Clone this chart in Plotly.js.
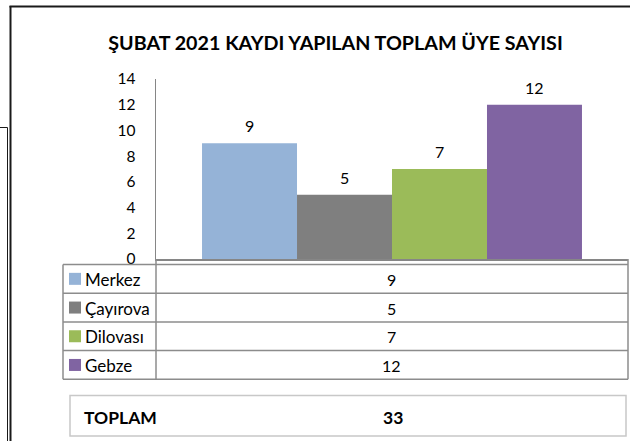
<!DOCTYPE html>
<html>
<head>
<meta charset="utf-8">
<script src="https://cdn.plot.ly/plotly-3.0.1.min.js"></script>
<style>html,body{margin:0;padding:0;background:#fff;}#chart{width:630px;height:441px;}</style>
</head>
<body>
<div id="chart"></div>
<script>
// ---- data ----
const chartTitle = 'ŞUBAT 2021 KAYDI YAPILAN TOPLAM ÜYE SAYISI';
const period = ['Şubat 2021'];
const seriesNames = ['Merkez', 'Çayırova', 'Dilovası', 'Gebze'];
const seriesValues = [9, 5, 7, 12];
const seriesColors = ['#95B3D7', '#7F7F7F', '#9BBB59', '#8064A2'];
const yTickValues = [0, 2, 4, 6, 8, 10, 12, 14];
const totalLabel = 'TOPLAM';
const totalValue = 33;

// ---- layout geometry (pixels) ----
const W = 630, H = 441;
const plotL = 156, plotR = 628, plotT = 79, plotB = 259;
const FONT = 'Lato, Carlito, Calibri, sans-serif';
const px = v => (v - plotL) / (plotR - plotL);
const py = v => (plotB - v) / (plotB - plotT);
const bargap = 0.195;

const traces = seriesNames.map((n, i) => ({
  type: 'bar', name: n, x: period, y: [seriesValues[i]],
  marker: {color: seriesColors[i], line: {width: 0}},
  hoverinfo: 'skip', showlegend: false
}));

const shapes = [];
const annotations = [];
const gridColor = '#8C8C8C';
function hline(x0, x1, y, color, w) {
  shapes.push({type: 'line', xref: 'paper', yref: 'paper', x0: px(x0), x1: px(x1), y0: py(y), y1: py(y), line: {color: color, width: w}});
}
function vline(x, y0, y1, color, w) {
  shapes.push({type: 'line', xref: 'paper', yref: 'paper', x0: px(x), x1: px(x), y0: py(y0), y1: py(y1), line: {color: color, width: w}});
}

// outer frame
hline(9.5, 632, 6.5, '#1a1a1a', 2);
vline(10.5, 6, 445, '#1a1a1a', 2);
hline(-2, 7.5, 127.5, '#1a1a1a', 1);
vline(7.5, 127.5, 445, '#1a1a1a', 1);

// data table
const tabL = 63, tabTop = 264.5, rowH = 28.7;
const tabBottom = tabTop + rowH * seriesNames.length;
hline(tabL, plotR, tabTop, gridColor, 1.5);
seriesNames.forEach((n, i) => {
  hline(tabL, plotR, tabTop + rowH * (i + 1), gridColor, 1.5);
});
vline(tabL, tabTop, tabBottom, gridColor, 1.5);
vline(plotL, plotB, tabBottom, gridColor, 1.5);
vline(plotR, plotB, tabBottom, gridColor, 1.5);

// table rows + bar-value data labels via category-index positions
const groupW = 1 - bargap, barW = groupW / seriesNames.length;
seriesNames.forEach((n, i) => {
  const cy = tabTop + rowH * (i + 0.5);
  shapes.push({type: 'rect', xref: 'paper', yref: 'paper', x0: px(69), x1: px(81), y0: py(cy - 6), y1: py(cy + 6), fillcolor: seriesColors[i], line: {width: 0}});
  annotations.push({xref: 'paper', yref: 'paper', x: px(83), y: py(cy + 0.5), xanchor: 'left', yanchor: 'middle', text: n, showarrow: false, font: {family: FONT, size: 17, color: '#000'}});
  annotations.push({xref: 'paper', yref: 'paper', x: px((plotL + plotR) / 2 - 1), y: py(cy + 0.5), xanchor: 'center', yanchor: 'middle', text: String(seriesValues[i]), showarrow: false, font: {family: FONT, size: 16, color: '#000'}});
  annotations.push({xref: 'x', yref: 'y', x: -0.5 + bargap / 2 + barW * (i + 0.5), y: seriesValues[i], xanchor: 'center', yanchor: 'bottom', yshift: 6, text: String(seriesValues[i]), showarrow: false, font: {family: FONT, size: 16, color: '#000'}});
});

// total box
shapes.push({type: 'rect', xref: 'paper', yref: 'paper', x0: px(70), x1: px(626), y0: py(395.5), y1: py(436), line: {color: '#C8C8C8', width: 1.5}, fillcolor: 'rgba(0,0,0,0)'});
annotations.push({xref: 'paper', yref: 'paper', x: px(82), y: py(417), xanchor: 'left', yanchor: 'middle', text: totalLabel, showarrow: false, font: {family: FONT, size: 17.5, weight: 'bold', color: '#000'}});
annotations.push({xref: 'paper', yref: 'paper', x: px(393), y: py(417), xanchor: 'center', yanchor: 'middle', text: String(totalValue), showarrow: false, font: {family: FONT, size: 17.5, weight: 'bold', color: '#000'}});

const layout = {
  width: W, height: H,
  margin: {l: plotL, r: W - plotR, t: plotT, b: H - plotB, pad: 0},
  paper_bgcolor: '#fff', plot_bgcolor: '#fff',
  showlegend: false,
  barmode: 'group', bargap: bargap, bargroupgap: 0,
  title: {text: chartTitle, x: 335.5 / W, xref: 'container', xanchor: 'center', y: 1 - 43 / H, yref: 'container', yanchor: 'middle',
    font: {family: FONT, size: 19.7, weight: 'bold', color: '#000'}},
  xaxis: {type: 'category', showticklabels: false, ticks: '', showgrid: false, zeroline: false,
    showline: true, linecolor: '#868686', linewidth: 1.5, range: [-0.5, 0.5], fixedrange: true},
  yaxis: {range: [0, 14], tickvals: yTickValues, ticktext: yTickValues.map(String), ticks: '', showgrid: false, zeroline: false,
    showline: true, linecolor: '#868686', linewidth: 1.5, ticklabelstandoff: 16,
    tickfont: {family: FONT, size: 15.5, color: '#000'}, fixedrange: true},
  shapes: shapes,
  annotations: annotations
};

Plotly.newPlot('chart', traces, layout, {staticPlot: true, displayModeBar: false});
</script>
</body>
</html>
